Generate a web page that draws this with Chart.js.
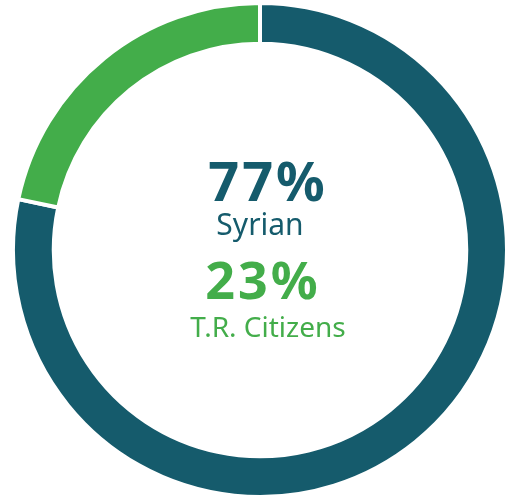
<!DOCTYPE html>
<html lang="en">
<head>
    <meta charset="UTF-8">
    <title>Syrian vs T.R. Citizens</title>
    <script src="https://cdn.jsdelivr.net/npm/chart.js@4.4.0/dist/chart.umd.min.js"></script>
    <style>
        html, body { margin: 0; padding: 0; background: #ffffff; overflow: hidden; }
    </style>
</head>
<body>
<canvas id="myChart" width="511" height="499"></canvas>
<script>
    const categories    = ['Syrian', 'T.R. Citizens'];
    // arc sizes as measured on the ring, printed labels as written in the picture
    const arcShares     = [78.3, 21.7];
    const percentLabels = ['77%', '23%'];
    const colors        = ['#155b6c', '#43ad4a'];

    // text in the hole of the ring
    const centerText = {
        id: 'centerText',
        afterDraw(chart) {
            const ctx = chart.ctx;
            const arc = chart.getDatasetMeta(0).data[0];
            const cx = arc.x;
            const cy = arc.y;
            ctx.save();
            ctx.textAlign = 'center';
            ctx.textBaseline = 'alphabetic';

            ctx.fillStyle = colors[0];
            ctx.font = 'bold 54px "Noto Sans"';
            ctx.letterSpacing = '3px';
            ctx.fillText(percentLabels[0], cx + 8, cy - 49);
            ctx.letterSpacing = '0px';
            ctx.font = '30px "Noto Sans"';
            ctx.fillText(categories[0], cx, cy - 15);

            ctx.fillStyle = colors[1];
            ctx.font = 'bold 52px "Noto Sans"';
            ctx.letterSpacing = '3px';
            ctx.fillText(percentLabels[1], cx + 3, cy + 49);
            ctx.letterSpacing = '0px';
            ctx.font = '28px "Noto Sans"';
            ctx.fillText(categories[1], cx + 8, cy + 87);
            ctx.restore();
        }
    };

    const chart = new Chart(document.getElementById('myChart'), {
        type: 'doughnut',
        data: {
            labels: categories,
            datasets: [{
                data: arcShares,
                backgroundColor: colors,
                borderColor: '#ffffff',
                borderWidth: 4
            }]
        },
        options: {
            responsive: false,
            animation: false,
            cutout: '83.5%',
            layout: { padding: { left: 10, right: 1, top: 1, bottom: -2 } },
            plugins: {
                legend: { display: false },
                tooltip: { enabled: false }
            }
        },
        plugins: [centerText]
    });
</script>
</body>
</html>
